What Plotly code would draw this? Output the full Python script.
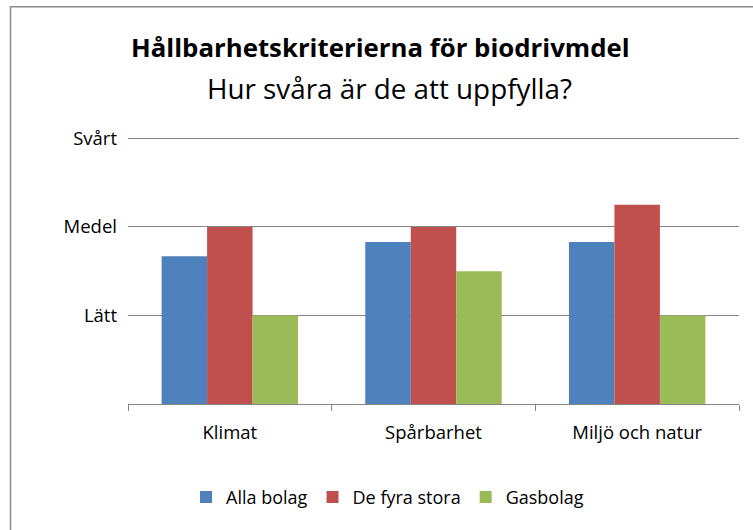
import plotly.graph_objects as go

categories = ["Klimat", "Spårbarhet", "Miljö och natur"]
series_names = ["Alla bolag", "De fyra stora", "Gasbolag"]
alla_bolag = [1.67, 1.83, 1.83]
de_fyra_stora = [2.0, 2.0, 2.25]
gasbolag = [1.0, 1.5, 1.0]
series_colors = ["#4F81BD", "#C0504D", "#9BBB59"]
tick_vals = [0, 1, 2, 3]
tick_text = ["", "Lätt", "Medel", "Svårt"]

FONT = "Open Sans"
W, H = 753, 530
YMAX = 3.05
UNIT = (404.5 - 138.5) / 3.0
# plot area in screen pixels
SL, SR, SB = 128, 739, 404.5
ST = SB - YMAX * UNIT
L, R, T, B = SL, W - SR, ST, H - SB

fig = go.Figure()
for name, vals, col in zip(series_names, [alla_bolag, de_fyra_stora, gasbolag], series_colors):
    fig.add_trace(go.Bar(x=categories, y=vals, name=name, marker_color=col,
                         marker_line_width=0))

plot_h = SB - ST
plot_w = SR - SL

def py(p):
    return (SB - p) / plot_h

def px(p):
    return (p - SL) / plot_w

fig.update_layout(
    width=W, height=H,
    margin=dict(l=L, r=R, t=T, b=B, pad=0),
    paper_bgcolor="white", plot_bgcolor="white",
    barmode="group", bargap=0.33, bargroupgap=0,
    font=dict(family=FONT, size=18.5, color="#000000"),
    showlegend=True,
    legend=dict(orientation="h", xref="paper", yref="paper",
                x=px(186), xanchor="left", y=py(498), yanchor="middle",
                font=dict(size=18), itemwidth=30, traceorder="normal"),
    xaxis=dict(showline=True, linecolor="#868686", linewidth=1.3,
               ticks="outside", tickson="boundaries", ticklen=6,
               tickcolor="#868686", tickwidth=1.3, ticklabelstandoff=12,
               tickfont=dict(size=18.5), showgrid=False),
    yaxis=dict(range=[0, YMAX], tickvals=tick_vals, ticktext=tick_text,
               showgrid=True, gridcolor="#868686", gridwidth=1.3,
               showline=False, zeroline=False, ticks="", ticklabelstandoff=10,
               tickfont=dict(size=18.5)),
    annotations=[
        dict(text="<b>Hållbarhetskriterierna för biodrivmdel</b>", xref="paper", yref="paper",
             x=px(380.5), y=py(47), showarrow=False, xanchor="center", yanchor="middle",
             font=dict(size=25.8, family=FONT)),
        dict(text="Hur svåra är de att uppfylla?", xref="paper", yref="paper",
             x=px(389), y=py(88), showarrow=False, xanchor="center", yanchor="middle",
             font=dict(size=27.8, family=FONT)),
    ],
    shapes=[dict(type="rect", xref="paper", yref="paper",
                 x0=px(10.5), y0=py(560), x1=px(790), y1=py(6.5),
                 line=dict(color="#8C8C8C", width=1.5), fillcolor="rgba(0,0,0,0)", layer="below")],
)

fig.write_html("out.html", config={"displayModeBar": False},
               post_script="document.body.style.margin='0';document.body.style.overflow='hidden';")
